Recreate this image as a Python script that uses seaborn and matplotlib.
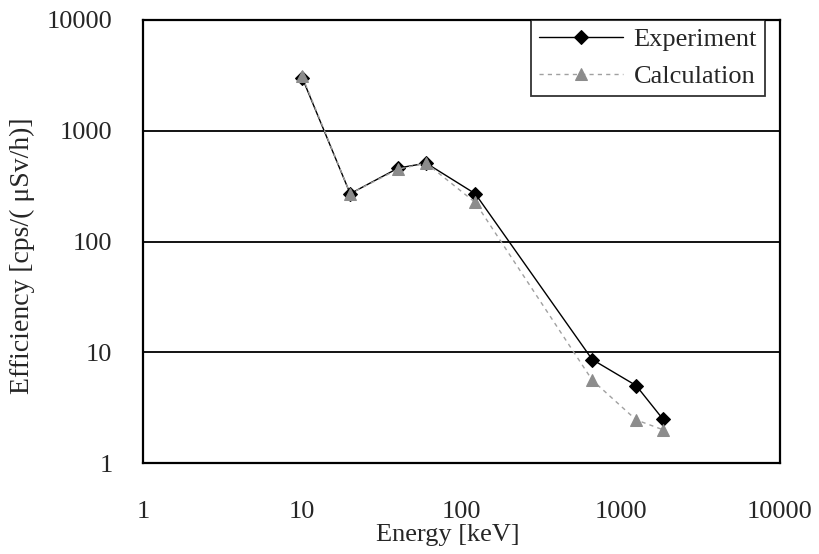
import matplotlib
matplotlib.use("Agg")
import matplotlib.pyplot as plt
import seaborn as sns
import pandas as pd

energy_kev = [10, 20, 40, 60, 122, 662, 1250, 1836]
experiment = [3000, 270, 460, 510, 270, 8.6, 5.0, 2.5]
calculation = [3100, 270, 450, 510, 225, 5.6, 2.45, 2.0]
x_ticks = [1, 10, 100, 1000, 10000]
y_ticks = [1, 10, 100, 1000, 10000]

sns.set_style("white")
plt.rcParams['font.family'] = ['Liberation Serif', 'DejaVu Serif']

df = pd.DataFrame({"Energy": energy_kev, "Experiment": experiment, "Calculation": calculation})

fig = plt.figure(figsize=(8.2, 5.54), dpi=100)
ax = fig.add_axes([143/820, 1-463/554, (780-143)/820, (463-20)/554])

for y in [10, 100, 1000]:
    ax.axhline(y, color='black', lw=1.3, zorder=1)

sns.lineplot(data=df, x="Energy", y="Experiment", ax=ax, color='black', lw=1.0,
             marker='D', markersize=7, markeredgecolor='black', label='Experiment', zorder=3)
sns.lineplot(data=df, x="Energy", y="Calculation", ax=ax, color='#a0a0a0', lw=1.0,
             linestyle=(0, (3, 3)), marker='^', markersize=9, markerfacecolor='#8c8c8c',
             markeredgecolor='#8c8c8c', label='Calculation', zorder=4)

ax.set_xscale('log')
ax.set_yscale('log')
ax.set_xlim(1, 10000)
ax.set_ylim(1, 10000)
ax.set_xticks(x_ticks)
ax.set_xticklabels([str(v) for v in x_ticks])
ax.set_yticks(y_ticks)
ax.set_yticklabels([str(v) for v in y_ticks])
ax.minorticks_off()
ax.tick_params(axis='x', direction='in', length=5, width=1.3, color='black', labelsize=19, pad=27)
ax.tick_params(axis='y', direction='in', length=0, labelsize=19, pad=22)
for s in ax.spines.values():
    s.set_color('black')
    s.set_linewidth(1.6)

ax.set_xlabel('Energy [keV]', fontsize=19)
ax.xaxis.set_label_coords((448-143)/(780-143), -(524-463)/(463-20), transform=ax.transAxes)
ax.set_ylabel('Efficiency [cps/( μSv/h)]', fontsize=20)
ax.yaxis.set_label_coords(-(143-35)/(780-143), (463-256)/(463-20), transform=ax.transAxes)

leg = ax.legend(loc='upper right', bbox_to_anchor=((765-143)/(780-143), 1.0),
                frameon=True, fancybox=False, edgecolor='black', fontsize=19,
                handlelength=3.2, borderpad=0.3, labelspacing=0.5, handletextpad=0.4,
                borderaxespad=0)
leg.get_frame().set_linewidth(1.3)

fig.savefig('out.png', dpi=100, facecolor='white')
